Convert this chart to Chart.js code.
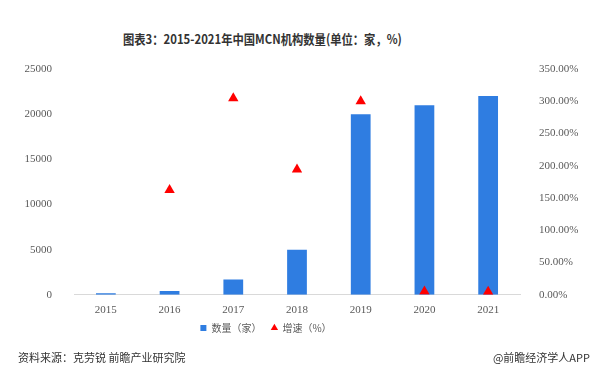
<!DOCTYPE html>
<html>
<head>
<meta charset="utf-8">
<script src="https://cdn.jsdelivr.net/npm/chart.js@4"></script>
<style>
  body { margin:0; background:#fff; }
  #wrap { position:relative; width:600px; height:384px; overflow:hidden; }
  #box { position:absolute; left:0; top:0; width:600px; height:356px; }
  .txt { position:absolute; font-family:"Noto Sans CJK SC", sans-serif; white-space:nowrap; }
  #title { left:123px; top:29px; font-size:13px; font-weight:bold; color:#333; transform:scaleX(0.87); transform-origin:left center; }
  #src { left:18px; top:349px; font-size:11px; color:#333; }
  #app { right:10px; top:349px; font-size:11px; color:#333; }
</style>
</head>
<body>
<div id="wrap">
  <div id="title" class="txt">图表3：2015-2021年中国MCN机构数量(单位：家，%)</div>
  <div id="box"><canvas id="chart"></canvas></div>
  <div id="src" class="txt">资料来源：克劳锐 前瞻产业研究院</div>
  <div id="app" class="txt">@前瞻经济学人APP</div>
</div>
<script>
const years = ["2015","2016","2017","2018","2019","2020","2021"];
const counts = [160, 420, 1700, 5000, 20000, 21000, 22000];
const growth = [null, 162.5, 304.8, 194.1, 300, 5, 4.8];

const tickFont = { family:"Liberation Serif", size:11 };
const tickColor = "#595959";

// the legend sits left of centre and close under the axis in the source picture
const shiftLegend = {
  id: "shiftLegend",
  afterLayout(chart) {
    const lg = chart.legend;
    lg.left -= 34; lg.right -= 34;
    lg.top -= 13; lg.bottom -= 13;
  }
};

new Chart(document.getElementById("chart"), {
  data: {
    labels: years,
    datasets: [
      {
        type: "line",
        label: "增速（%）",
        data: growth,
        yAxisID: "y1",
        showLine: false,
        pointStyle: "triangle",
        pointRadius: 6,
        pointHoverRadius: 6,
        backgroundColor: "#ff0000",
        borderColor: "#ff0000",
        borderWidth: 0,
        order: 0
      },
      {
        type: "bar",
        label: "数量（家）",
        data: counts,
        yAxisID: "y",
        backgroundColor: "#2f7de1",
        pointStyle: "rect",
        barPercentage: 0.31,
        categoryPercentage: 1,
        order: 1
      }
    ]
  },
  plugins: [shiftLegend],
  options: {
    responsive: true,
    maintainAspectRatio: false,
    animation: false,
    layout: { padding: { top: 69, left: 0, right: 0, bottom: 0 } },
    plugins: {
      title: { display: false },
      tooltip: { enabled: false },
      legend: {
        position: "bottom",
        reverse: true,
        labels: {
          usePointStyle: true,
          boxWidth: 6,
          boxHeight: 6,
          padding: 10,
          color: "#595959",
          font: { family: "Noto Sans CJK SC", size: 10 }
        }
      }
    },
    scales: {
      x: {
        grid: { display: false, drawTicks: false },
        border: { display: true, color: "#d9d9d9" },
        ticks: { color: tickColor, font: tickFont, padding: 9 }
      },
      y: {
        position: "left",
        min: 0, max: 25000,
        ticks: { stepSize: 5000, color: tickColor, font: tickFont, padding: 14,
                 callback: v => String(v) },
        grid: { display: false },
        border: { display: false },
        afterFit: s => { s.width = 74; }
      },
      y1: {
        position: "right",
        min: 0, max: 350,
        ticks: { stepSize: 50, color: tickColor, font: tickFont, padding: 11,
                 callback: v => v.toFixed(2) + "%" },
        grid: { display: false },
        border: { display: false },
        afterFit: s => { s.width = 80; }
      }
    }
  }
});
</script>
</body>
</html>
